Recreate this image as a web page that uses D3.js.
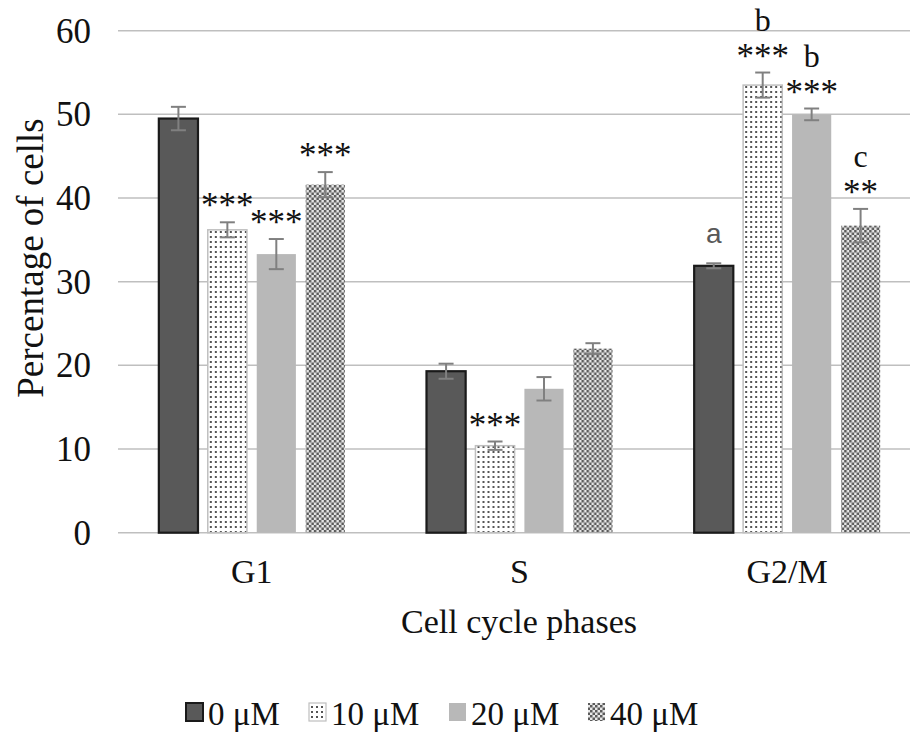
<!DOCTYPE html>
<html>
<head>
<meta charset="utf-8">
<script src="https://cdn.jsdelivr.net/npm/d3@7"></script>
<style>
  body { margin: 0; background: #fff; }
  text { font-family: "Liberation Serif", "Times New Roman", serif; }
</style>
</head>
<body>
<svg id="chart" width="910" height="735"></svg>
<script>
/* data */
const phases = ['G1', 'S', 'G2/M'];
const doses = ['0 μM', '10 μM', '20 μM', '40 μM'];
const means = [
  [49.5, 36.2, 33.3, 41.6],
  [19.3, 10.4, 17.2, 22.0],
  [31.9, 53.5, 50.0, 36.7]
];
const errors = [
  [1.4, 0.9, 1.8, 1.5],
  [0.9, 0.5, 1.4, 0.65],
  [0.3, 1.5, 0.7, 2.0]
];
const stars = [
  ['', '***', '***', '***'],
  ['', '***', '', ''],
  ['', '***', '***', '**']
];
const letters = [
  ['', '', '', ''],
  ['', '', '', ''],
  ['a', 'b', 'b', 'c']
];
const yTicks = [0, 10, 20, 30, 40, 50, 60];

/* layout */
const svg = d3.select('#chart');
const defs = svg.append('defs');

// dotted pattern (10 uM)
let dots = defs.append('pattern').attr('id', 'dots')
  .attr('patternUnits', 'userSpaceOnUse').attr('width', 5).attr('height', 5);
dots.append('rect').attr('width', 5).attr('height', 5).attr('fill', '#fff');
dots.append('rect').attr('x', 1).attr('y', 1).attr('width', 2).attr('height', 2).attr('fill', '#555');

// checker pattern (40 uM)
let chk = defs.append('pattern').attr('id', 'checker')
  .attr('patternUnits', 'userSpaceOnUse').attr('width', 5).attr('height', 5);
chk.append('rect').attr('width', 5).attr('height', 5).attr('fill', '#e6e6e6');
chk.append('rect').attr('width', 2.5).attr('height', 2.5).attr('fill', '#5a5a5a');
chk.append('rect').attr('x', 2.5).attr('y', 2.5).attr('width', 2.5).attr('height', 2.5).attr('fill', '#5a5a5a');

const FILLS = ['#595959', 'url(#dots)', '#b8b8b8', 'url(#checker)'];
const STROKES = ['#1a1a1a', '#bfbfbf', 'none', 'none'];
const SW = [2.2, 1.5, 0, 0];

const y = d3.scaleLinear().domain([0, 60]).range([532.7, 30.7]);
const x0 = d3.scaleBand().domain(phases).range([118, 921]).paddingInner(0).paddingOuter(0);
const x1 = d3.scaleBand().domain(doses).range([0, 186]).paddingInner(0.2).paddingOuter(0);
const groupOff = (x0.bandwidth() - 186) / 2;

// gridlines
svg.append('g').selectAll('line').data(yTicks).enter().append('line')
  .attr('x1', 118).attr('x2', 921)
  .attr('y1', d => y(d)).attr('y2', d => y(d))
  .attr('stroke', '#bfbfbf').attr('stroke-width', 1.5);

// y axis labels
svg.append('g').selectAll('text').data(yTicks).enter().append('text')
  .attr('x', 91).attr('y', d => y(d) + 12)
  .attr('text-anchor', 'end').attr('font-size', 35).attr('fill', '#111')
  .text(d => d);

// bars
phases.forEach((p, gi) => {
  let g = svg.append('g').attr('transform', `translate(${x0(p) + groupOff},0)`);
  doses.forEach((d, i) => {
    let m = means[gi][i], e = errors[gi][i];
    let bx = x1(d), bw = x1.bandwidth(), cx = bx + bw / 2;
    g.append('rect')
      .attr('x', bx).attr('y', y(m))
      .attr('width', bw).attr('height', y(0) - y(m))
      .attr('fill', FILLS[i]).attr('stroke', STROKES[i]).attr('stroke-width', SW[i]);

    // error bar
    let eb = g.append('g').attr('stroke', '#808080').attr('stroke-width', 2);
    eb.append('line').attr('x1', cx).attr('x2', cx).attr('y1', y(m + e)).attr('y2', y(m - e));
    eb.append('line').attr('x1', cx - 7.5).attr('x2', cx + 7.5).attr('y1', y(m + e)).attr('y2', y(m + e));
    eb.append('line').attr('x1', cx - 7.5).attr('x2', cx + 7.5).attr('y1', y(m - e)).attr('y2', y(m - e));

    let top = y(m + e);
    if (stars[gi][i]) {
      g.append('text').attr('x', cx).attr('y', top - 5)
        .attr('text-anchor', 'middle').attr('font-size', 35).attr('fill', '#111')
        .text(stars[gi][i]);
    }
    let lt = letters[gi][i];
    if (lt) {
      if (lt === 'a') {
        g.append('text').attr('x', cx).attr('y', top - 20)
          .attr('text-anchor', 'middle').attr('font-size', 28).attr('fill', '#595959')
          .style('font-family', '"Liberation Sans", Arial, sans-serif')
          .text(lt);
      } else {
        g.append('text').attr('x', cx).attr('y', top - 42)
          .attr('text-anchor', 'middle').attr('font-size', 32).attr('fill', '#111')
          .text(lt);
      }
    }
  });
});

// category labels
svg.append('g').selectAll('text').data(phases).enter().append('text')
  .attr('x', d => x0(d) + x0.bandwidth() / 2).attr('y', 583)
  .attr('text-anchor', 'middle').attr('font-size', 34).attr('fill', '#111')
  .text(d => d);

// axis titles
svg.append('text').attr('x', 519).attr('y', 633)
  .attr('text-anchor', 'middle').attr('font-size', 34).attr('fill', '#111')
  .text('Cell cycle phases');
svg.append('text')
  .attr('transform', 'translate(43,258) rotate(-90)')
  .attr('text-anchor', 'middle').attr('font-size', 37).attr('fill', '#111')
  .text('Percentage of cells');

// legend
const legX = [186, 309, 449, 588];
let leg = svg.append('g');
doses.forEach((d, i) => {
  leg.append('rect').attr('x', legX[i]).attr('y', 703).attr('width', 17).attr('height', 18)
    .attr('fill', FILLS[i])
    .attr('stroke', i === 0 ? '#1a1a1a' : (i === 1 ? '#bfbfbf' : 'none'))
    .attr('stroke-width', i === 0 ? 2 : 1.2);
  leg.append('text').attr('x', legX[i] + 22).attr('y', 725)
    .attr('font-size', 33).attr('fill', '#111').text(d);
});
</script>
</body>
</html>
